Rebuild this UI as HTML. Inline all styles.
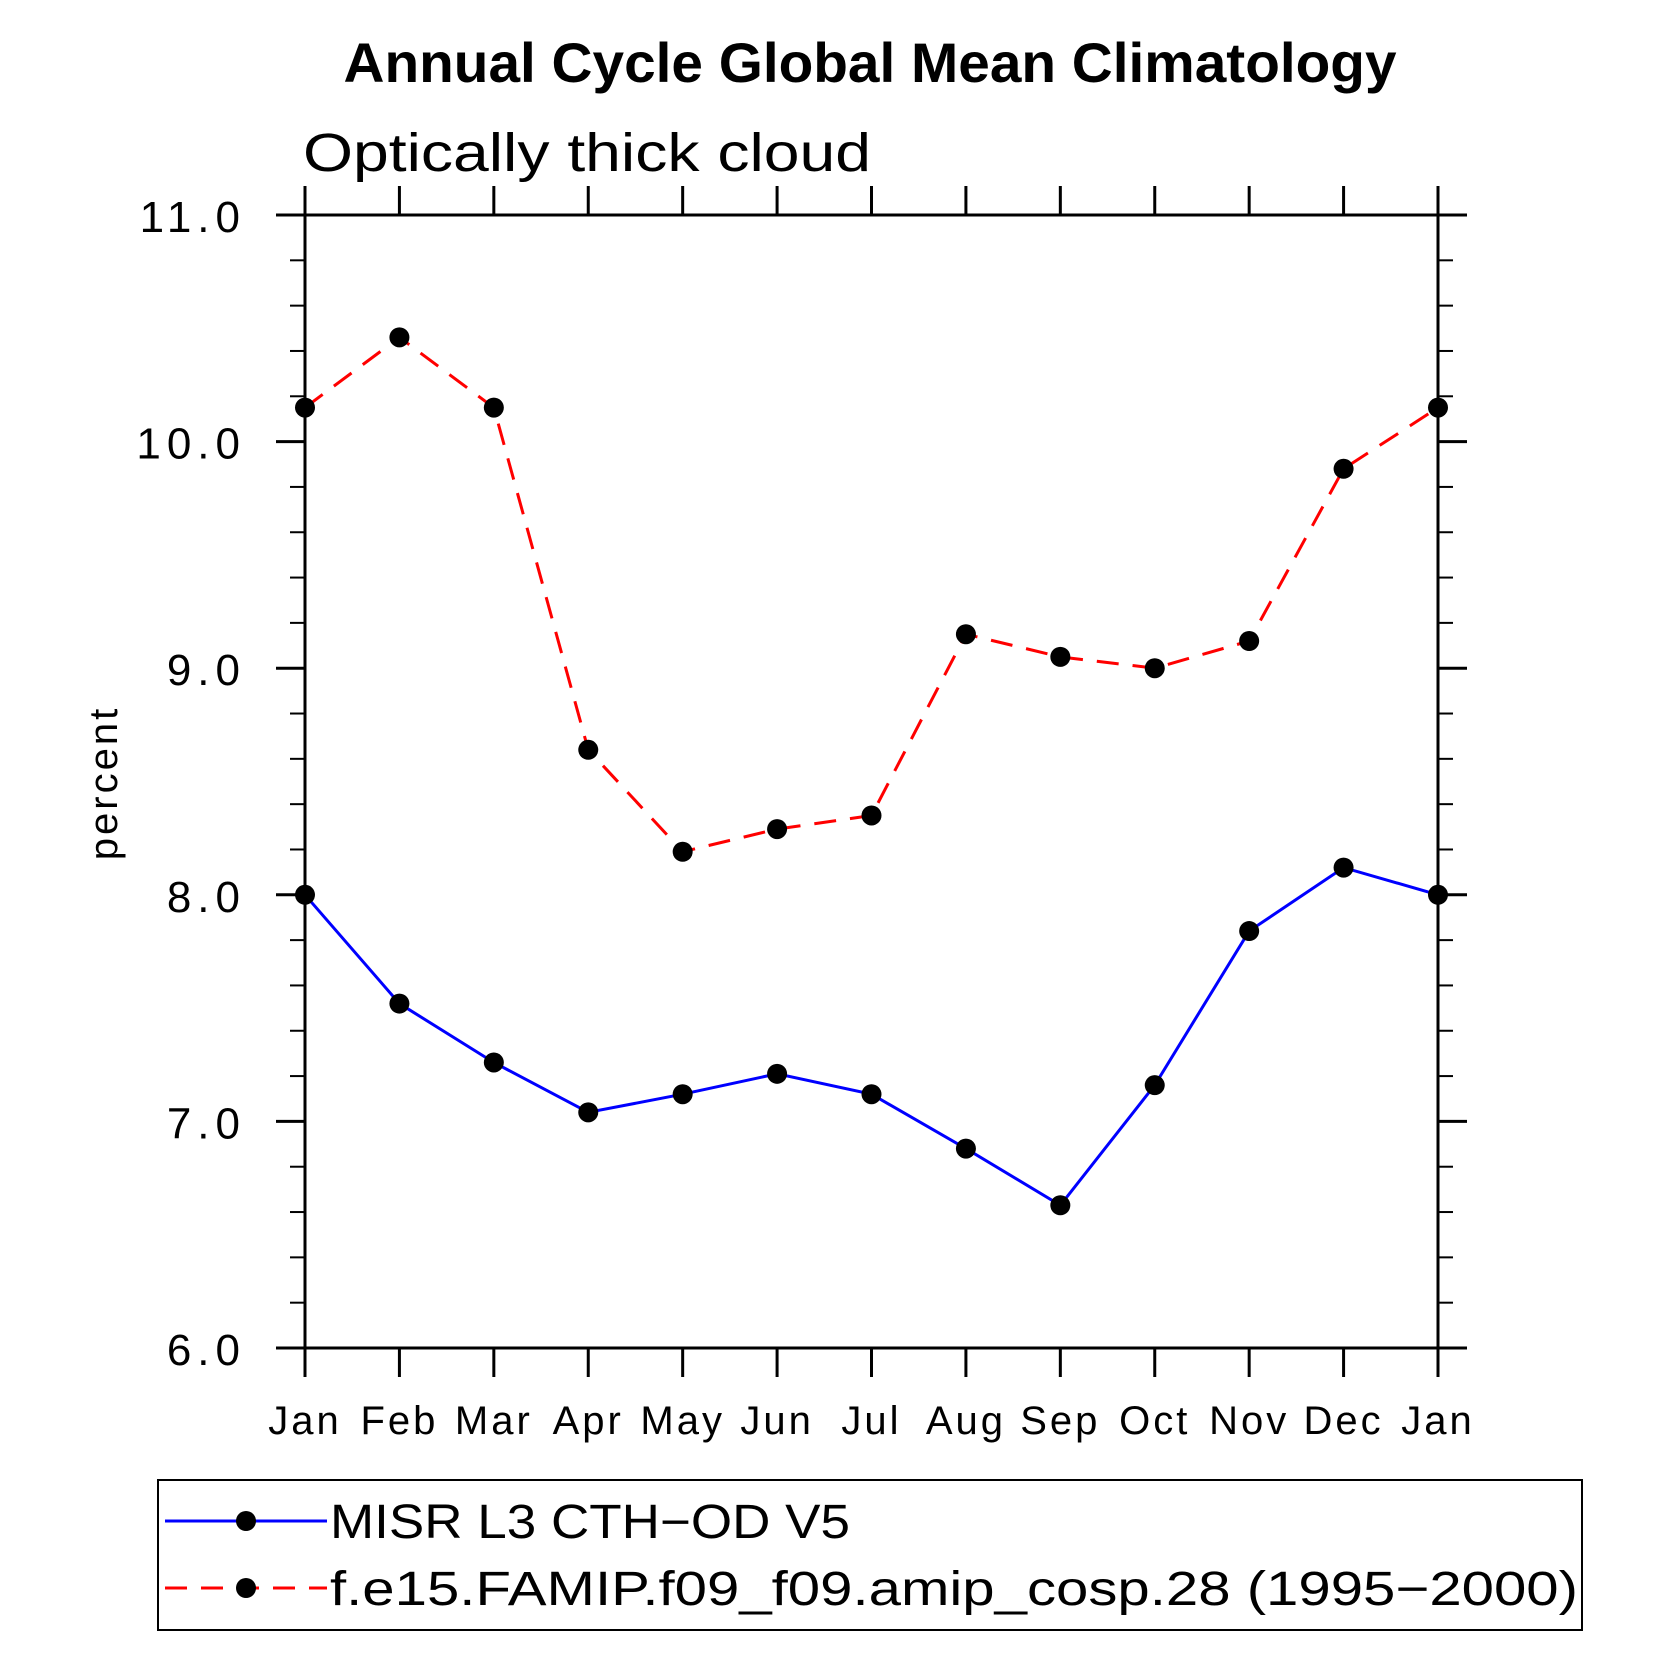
<!DOCTYPE html>
<html><head><meta charset="utf-8"><style>
html,body{margin:0;padding:0;background:#fff}
svg{display:block}
text{font-family:"Liberation Sans",sans-serif;fill:#000}
</style></head><body>
<svg id="chart" width="1669" height="1669" viewBox="0 0 1669 1669" xmlns="http://www.w3.org/2000/svg">
<text x="870" y="82" font-size="56" font-weight="bold" text-anchor="middle" textLength="1053" lengthAdjust="spacingAndGlyphs">Annual Cycle Global Mean Climatology</text>
<text x="303" y="171" font-size="54" textLength="568" lengthAdjust="spacingAndGlyphs">Optically thick cloud</text>
<text x="0" y="0" font-size="40" text-anchor="middle" letter-spacing="3" transform="translate(117,783) rotate(-90)">percent</text>
<g id="axes"></g>
<g id="series"></g>
<g>
<rect x="158" y="1480" width="1424" height="150" fill="none" stroke="#000" stroke-width="2"/>
<line x1="165" y1="1521" x2="327" y2="1521" stroke="#0000ff" stroke-width="3"/>
<circle cx="246" cy="1521" r="10" fill="#000"/>
<text x="330" y="1538" font-size="48" textLength="520" lengthAdjust="spacingAndGlyphs">MISR L3 CTH−OD V5</text>
<line x1="165" y1="1588" x2="327" y2="1588" stroke="#ff0000" stroke-width="3" stroke-dasharray="22,14"/>
<circle cx="246" cy="1588" r="10" fill="#000"/>
<text x="330" y="1605" font-size="48" textLength="1248" lengthAdjust="spacingAndGlyphs">f.e15.FAMIP.f09_f09.amip_cosp.28 (1995−2000)</text>
</g>
</svg>
<script>
const months = ["Jan","Feb","Mar","Apr","May","Jun","Jul","Aug","Sep","Oct","Nov","Dec","Jan"];
const misrValues = [8.0,7.52,7.26,7.04,7.12,7.21,7.12,6.88,6.63,7.16,7.84,8.12,8.0];
const modelValues = [10.15,10.46,10.15,8.64,8.19,8.29,8.35,9.15,9.05,9.00,9.12,9.88,10.15];
const yTickLabels = ["6.0","7.0","8.0","9.0","10.0","11.0"];
const yMin = 6, yMax = 11;

const L=305,R=1438,T=215,B=1348;
const NS="http://www.w3.org/2000/svg";
function xs(i){return L+(R-L)*i/(months.length-1);}
function ys(v){return B-(B-T)*(v-yMin)/(yMax-yMin);}
function mk(tag,attrs,parent){const e=document.createElementNS(NS,tag);for(const k in attrs)e.setAttribute(k,attrs[k]);parent.appendChild(e);return e;}
const ax=document.getElementById('axes');
const fr=mk('rect',{x:L,y:T,width:R-L,height:B-T,fill:'none',stroke:'#000','stroke-width':3},ax);


for(let i=0;i<months.length;i++){
  const x=xs(i);
  mk('line',{x1:x,y1:B,x2:x,y2:B+29,stroke:'#000','stroke-width':3},ax);
  mk('line',{x1:x,y1:T,x2:x,y2:T-29,stroke:'#000','stroke-width':3},ax);
  const t=mk('text',{x:x,y:1434,'font-size':40,'text-anchor':'middle','letter-spacing':3},ax);
  
  
  t.textContent=months[i];
}
for(let k=0;k<=25;k++){
  const v=yMin+k*0.2,y=ys(v);const major=k%5===0;const len=major?29:15;
  mk('line',{x1:L-len,y1:y,x2:L,y2:y,stroke:'#000','stroke-width':major?3:2},ax);
  mk('line',{x1:R,y1:y,x2:R+len,y2:y,stroke:'#000','stroke-width':major?3:2},ax);
}
yTickLabels.forEach((lab)=>{
  const t=mk('text',{x:246,y:ys(parseFloat(lab))+17,'font-size':44,'text-anchor':'end','letter-spacing':6},ax);
  
  
  t.textContent=lab;
});
const sg=document.getElementById('series');
function drawSeries(vals,color,dash,name){
  const pts=vals.map((v,i)=>xs(i)+','+ys(v)).join(' ');
  const p=mk('polyline',{points:pts,fill:'none',stroke:color,'stroke-width':3},sg);
  if(dash)p.setAttribute('stroke-dasharray',dash);
  
  
  vals.forEach((v,i)=>{
    const c=mk('circle',{cx:xs(i),cy:ys(v),r:10,fill:'#000'},sg);
    
    
  });
}
drawSeries(modelValues,'#ff0000','22,14','model');
drawSeries(misrValues,'#0000ff',null,'misr');
</script>
</body></html>
